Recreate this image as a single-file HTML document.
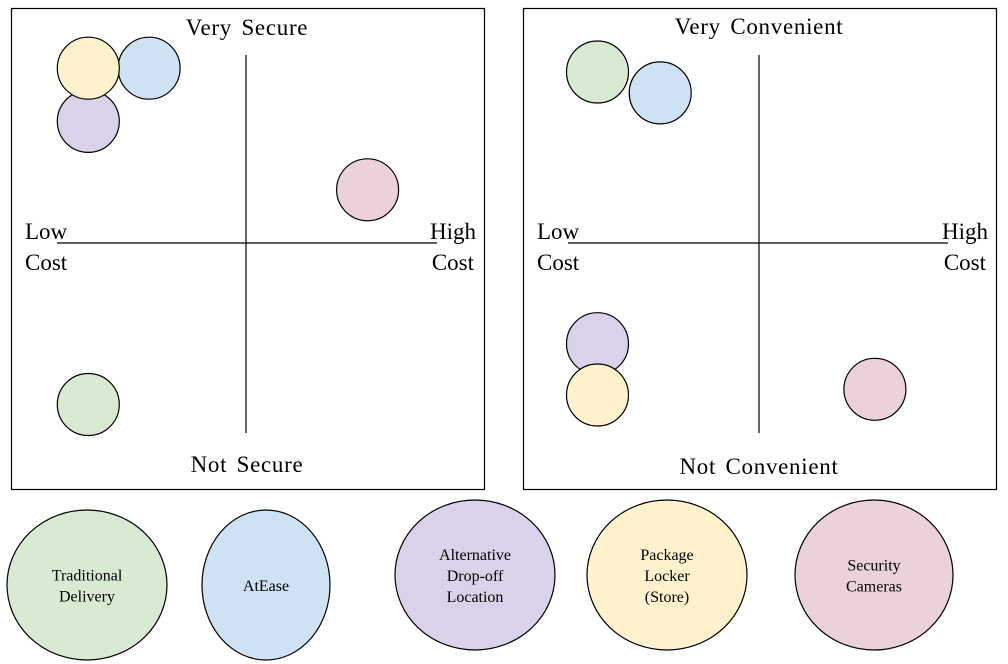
<!DOCTYPE html>
<html><head><meta charset="utf-8"><style>
body{margin:0;background:#fff;}
svg{display:block;font-family:"Liberation Serif",serif;}
.t{letter-spacing:0.7px;word-spacing:3px;}
</style></head><body>
<svg id="s" width="1008" height="664" viewBox="0 0 1008 664">
<g>
<rect x="11.5" y="8.5" width="473" height="481" fill="#fff" stroke="#000" stroke-width="1.2"/>
<line x1="246" y1="55" x2="246" y2="433" stroke="#000" stroke-width="1.2"/>
<line x1="57" y1="243" x2="437" y2="243" stroke="#000" stroke-width="1.2"/>
<text class="t" x="247" y="35" font-size="23" text-anchor="middle">Very Secure</text>
<text class="t" x="247" y="472" font-size="23" text-anchor="middle">Not Secure</text>
<text x="25" y="239" font-size="23">Low</text>
<text x="25" y="270" font-size="23">Cost</text>
<text x="476" y="239" font-size="23" text-anchor="end">High</text>
<text x="474" y="270" font-size="23" text-anchor="end">Cost</text>
<g id="g1"></g>
</g>
<g>
<rect x="523.5" y="8.5" width="473" height="481" fill="#fff" stroke="#000" stroke-width="1.2"/>
<line x1="759" y1="55" x2="759" y2="433" stroke="#000" stroke-width="1.2"/>
<line x1="568" y1="243" x2="948" y2="243" stroke="#000" stroke-width="1.2"/>
<text class="t" x="759" y="34" font-size="23" text-anchor="middle">Very Convenient</text>
<text class="t" x="759" y="474" font-size="23" text-anchor="middle">Not Convenient</text>
<text x="537" y="239" font-size="23">Low</text>
<text x="537" y="270" font-size="23">Cost</text>
<text x="988" y="239" font-size="23" text-anchor="end">High</text>
<text x="986" y="270" font-size="23" text-anchor="end">Cost</text>
<g id="g2"></g>
</g>
<g id="leg"></g>
</svg>
<script>
const names=["Traditional Delivery","AtEase","Alternative Drop-off Location","Package Locker (Store)","Security Cameras"];
const colors=["#d9ead3","#cfe2f3","#d9d2e9","#fff2cc","#ead1dc"];
const secCost=[-0.83,-0.51,-0.83,-0.83,0.64];
const secVal=[-0.85,0.92,0.64,0.92,0.28];
const convCost=[-0.85,-0.52,-0.85,-0.85,0.61];
const convVal=[0.9,0.79,-0.53,-0.8,-0.77];
const NS="http://www.w3.org/2000/svg";
function mk(t,a,p){const e=document.createElementNS(NS,t);for(const k in a)e.setAttribute(k,a[k]);p.appendChild(e);return e;}
function plot(gid,cx,cy,xs,ys,pre){
  const g=document.getElementById(gid);
  const sx=v=>cx+v*190, sy=v=>cy-v*190;
  xs.forEach((v,i)=>{
    const c=mk("circle",{cx:sx(v),cy:sy(ys[i]),r:31,fill:colors[i],stroke:"#000","stroke-width":1.2},g);
    
    
  });
}
plot("g1",246,243,secCost,secVal,"security");
plot("g2",759,243,convCost,convVal,"convenience");
const leg=document.getElementById("leg");
const lx=[87,266,475,667,874],ly=[585,585,575,575,575],lrx=[80,64,80,80,79];
const lines=[["Traditional","Delivery"],["AtEase"],["Alternative","Drop-off","Location"],["Package","Locker","(Store)"],["Security","Cameras"]];
names.forEach((n,i)=>{
  const e=mk("ellipse",{cx:lx[i],cy:ly[i],rx:lrx[i],ry:75,fill:colors[i],stroke:"#000","stroke-width":1.2},leg);
  
  
  const L=lines[i],h=21,y0=ly[i]-(L.length-1)*h/2+6;
  L.forEach((t,j)=>{
    const tx=mk("text",{x:lx[i],y:y0+j*h,"font-size":16,"text-anchor":"middle"},leg);
    tx.textContent=t;
    
    
  });
});
</script>
</body></html>
